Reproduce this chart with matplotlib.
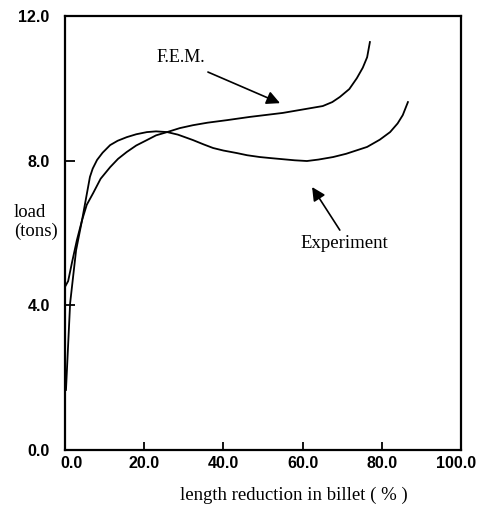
import matplotlib
matplotlib.use("Agg")
import matplotlib.pyplot as plt
from matplotlib.transforms import ScaledTranslation

# values
fem_x = [0.0, 0.8, 1.8, 3.0, 4.3, 5.5, 7.1, 9.0, 11.4, 13.4, 15.6, 18.0, 20.7,
         23.0, 25.8, 29.0, 32.3, 36.0, 40.9, 46.7, 55.0, 65.1, 67.5, 69.4,
         71.8, 73.7, 75.2, 76.3, 77.0]
fem_y = [4.51, 4.67, 5.20, 5.80, 6.35, 6.78, 7.10, 7.50, 7.82, 8.05, 8.24, 8.42,
         8.57, 8.70, 8.79, 8.90, 8.98, 9.05, 9.12, 9.21, 9.32, 9.51, 9.62, 9.76,
         9.98, 10.28, 10.57, 10.86, 11.28]

exp_x = [0.25, 1.3, 2.8, 4.3, 6.3, 7.0, 8.1, 9.5, 11.4, 13.3, 15.6, 18.0, 20.7,
         23.0, 25.8, 28.5, 32.3, 35.0, 37.4, 40.0, 43.4, 46.0, 49.2, 52.0, 55.0,
         58.0, 61.1, 64.0, 67.7, 71.0, 76.3, 79.5, 82.1, 84.0, 85.3, 86.6]
exp_y = [1.66, 4.06, 5.52, 6.35, 7.55, 7.78, 8.02, 8.22, 8.43, 8.55, 8.65, 8.73,
         8.79, 8.81, 8.79, 8.72, 8.57, 8.45, 8.35, 8.28, 8.21, 8.15, 8.10, 8.07,
         8.04, 8.01, 7.99, 8.03, 8.10, 8.19, 8.38, 8.58, 8.79, 9.03, 9.26, 9.62]

x_ticks = [0, 20, 40, 60, 80, 100]
x_ticklabels = ["0.0", "20.0", "40.0", "60.0", "80.0", "100.0"]
y_ticks = [0, 4, 8, 12]
y_ticklabels = ["0.0", "4.0", "8.0", "12.0"]

serif = ["Liberation Serif", "DejaVu Serif"]
sans = ["Liberation Sans Narrow", "Liberation Sans", "DejaVu Sans"]

fig = plt.figure(figsize=(4.81, 5.11), dpi=100)
ax = fig.add_axes([0.1351, 0.1194, 0.8233, 0.8493])

ax.plot(fem_x, fem_y, color="black", lw=1.3)
ax.plot(exp_x, exp_y, color="black", lw=1.3)

ax.set_xlim(0, 100)
ax.set_ylim(0, 12)
ax.set_xticks(x_ticks)
ax.set_xticklabels(x_ticklabels, family=sans, fontsize=11.5, fontweight="bold")
ax.set_yticks(y_ticks)
ax.set_yticklabels(y_ticklabels, family=sans, fontsize=11.5, fontweight="bold")
ax.tick_params(axis="x", direction="in", length=6, width=1.3, pad=4)
ax.tick_params(axis="y", direction="in", length=7, width=1.3, pad=11)
for s in ax.spines.values():
    s.set_linewidth(1.6)

# first and last x labels sit a bit off their ticks in the original
lbls = ax.get_xticklabels()
lbls[0].set_transform(lbls[0].get_transform() + ScaledTranslation(7 / 100, 0, fig.dpi_scale_trans))
lbls[-1].set_transform(lbls[-1].get_transform() + ScaledTranslation(-5 / 100, 0, fig.dpi_scale_trans))

# arrows + labels
ax.annotate("", xy=(54.3, 9.59), xytext=(36.1, 10.45),
            arrowprops=dict(arrowstyle="-|>", mutation_scale=20, lw=1.2,
                            color="black", shrinkA=0, shrinkB=0))
ax.text(29.3, 10.84, "F.E.M.", family=serif, fontsize=13, ha="center", va="center")

ax.annotate("", xy=(62.4, 7.27), xytext=(69.4, 6.08),
            arrowprops=dict(arrowstyle="-|>", mutation_scale=20, lw=1.2,
                            color="black", shrinkA=0, shrinkB=0))
ax.text(70.6, 5.72, "Experiment", family=serif, fontsize=13.5, ha="center", va="center")

fig.text(14 / 481, 1 - 222 / 511, "load\n(tons)", family=serif, fontsize=13.5,
         ha="left", va="center", multialignment="left", linespacing=1.1)
fig.text(294 / 481, 1 - 495 / 511, "length reduction in billet ( % )",
         family=serif, fontsize=13.5, ha="center", va="center")

fig.savefig("out.png", dpi=100)
